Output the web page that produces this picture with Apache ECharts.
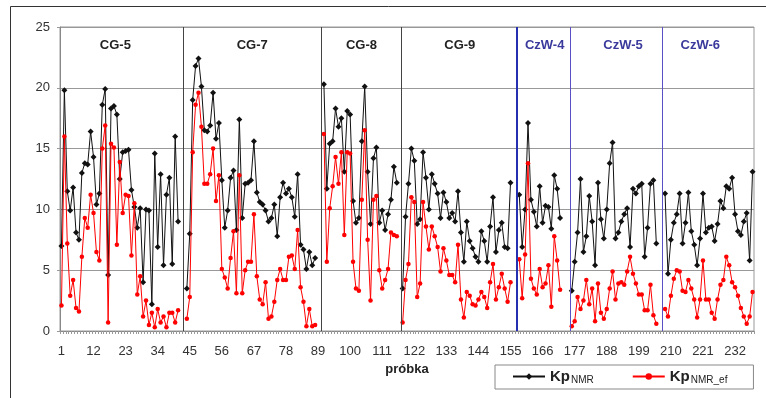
<!DOCTYPE html>
<html>
<head>
<meta charset="utf-8">
<script src="https://cdn.jsdelivr.net/npm/echarts@6/dist/echarts.min.js"></script>
<style>
  html, body { margin: 0; padding: 0; background: #fff; }
  #chart { width: 766px; height: 398px; }
</style>
</head>
<body>
<div id="chart"></div>
<script>
// Kp NMR (czarny) i Kp NMR_ef (czerwony) dla kolejnych próbek
var cg5Nmr = [7.0, 19.8, 11.5, 9.9, 11.8, 8.1, 7.5, 13.0, 13.8, 13.7, 16.4, 14.3, 10.4, 11.3, 18.6, 19.9, 4.6, 18.3, 18.5, 17.8,
              12.5, 14.7, 14.8, 14.9, 11.6, 10.2, 8.5, 10.1, 4.0, 10.0, 9.9, 2.2, 14.6, 6.9, 12.9, 5.4, 11.2, 12.6, 5.5, 16.0, 9.0];
var cg5Ef  = [2.1, 16.0, 7.2, 2.9, 4.2, 1.9, 1.6, 6.1, 9.3, 8.5, 11.2, 9.7, 6.5, 5.8, 15.0, 16.9, 0.7, 15.4, 15.1, 7.1,
              13.9, 9.7, 11.2, 11.1, 6.2, 10.5, 3.0, 4.5, 1.2, 2.5, 0.5, 1.5, 0.3, 1.8, 0.7, 1.2, 0.3, 1.5, 1.5, 0.7, 1.7];

var cg7Nmr = [3.5, 8.0, 19.0, 21.8, 22.4, 20.1, 16.5, 16.4, 16.9, 19.6, 15.8, 17.1, 12.4, 8.5, 9.9, 12.6, 13.2, 8.3, 17.4, 9.3,
              12.1, 12.2, 12.4, 15.6, 11.4, 10.6, 10.4, 9.9, 9.0, 9.3, 10.4, 7.8, 11.0, 12.2, 11.3, 11.7, 11.0, 9.4, 12.9, 7.1,
              6.7, 5.1, 6.5, 5.4, 6.0];
var cg7Ef  = [1.0, 2.8, 14.7, 18.6, 19.6, 16.8, 12.1, 12.1, 12.9, 15.0, 10.7, 12.8, 5.1, 4.4, 3.5, 6.0, 8.2, 3.1, 12.8, 3.1,
              5.0, 5.7, 5.7, 9.6, 4.5, 2.6, 2.2, 4.0, 1.0, 1.2, 2.4, 4.2, 5.1, 4.2, 4.2, 6.1, 6.2, 5.1, 8.3, 3.6,
              2.4, 0.4, 1.8, 0.4, 0.5];

var cg8Nmr = [20.3, 11.7, 15.4, 15.6, 18.3, 16.8, 17.5, 13.1, 18.1, 17.8, 10.7, 8.9, 9.3, 15.6, 20.1, 13.1, 8.8, 14.2, 15.1, 8.9,
              9.9, 8.3, 9.6, 10.8, 13.5, 12.2];
var cg8Ef  = [16.2, 5.7, 10.1, 11.9, 14.3, 12.1, 14.7, 7.9, 14.7, 14.6, 5.7, 3.5, 3.3, 10.8, 16.5, 7.5, 2.5, 10.8, 11.1, 5.0,
              3.5, 4.2, 5.1, 8.1, 7.9, 7.8];

var cg9Nmr = [3.5, 9.4, 12.1, 15.0, 14.0, 8.8, 9.2, 14.7, 12.6, 10.0, 12.9, 12.1, 11.3, 9.3, 11.4, 10.6, 9.3, 9.7, 9.0, 11.5,
              8.1, 5.7, 9.0, 7.4, 6.8, 6.1, 5.7, 8.2, 7.4, 5.7, 8.6, 11.0, 6.5, 8.3, 8.9, 6.9, 6.8, 12.2];
var cg9Ef  = [0.7, 4.2, 5.5, 11.0, 10.6, 2.8, 3.9, 10.6, 8.6, 6.7, 8.6, 7.8, 6.9, 4.9, 6.8, 5.8, 4.6, 4.6, 4.0, 7.1,
              2.6, 1.1, 3.2, 2.9, 2.2, 2.1, 2.6, 3.2, 2.8, 1.9, 4.0, 5.5, 2.6, 3.6, 4.7, 3.5, 2.4, 4.0];

var czw4Nmr = [11.2, 6.9, 10.0, 17.1, 10.8, 9.8, 8.6, 11.9, 8.9, 10.3, 10.2, 8.4, 12.8, 11.7, 9.3];
var czw4Ef  = [5.9, 2.7, 6.3, 13.8, 4.3, 3.5, 3.0, 5.1, 3.6, 3.9, 5.4, 2.0, 7.8, 5.8, 3.4];

var czw5Nmr = [3.3, 5.7, 8.1, 12.5, 6.5, 7.8, 11.1, 9.0, 5.4, 12.2, 9.2, 7.6, 10.0, 13.8, 15.5, 7.6, 8.1, 9.0, 9.6, 10.1,
               6.9, 11.7, 11.3, 11.9, 12.1, 6.1, 8.5, 12.1, 12.4, 7.2];
var czw5Ef  = [0.4, 0.8, 2.8, 1.8, 2.5, 4.2, 2.2, 3.5, 0.8, 3.9, 1.5, 1.0, 1.8, 3.5, 4.9, 2.6, 3.9, 4.0, 3.8, 4.9,
               6.1, 4.7, 3.9, 3.0, 3.0, 1.7, 1.7, 3.8, 1.3, 0.6];

var czw6Nmr = [11.3, 4.7, 7.5, 8.9, 9.6, 11.3, 7.2, 8.9, 11.4, 8.2, 7.1, 5.4, 7.6, 11.3, 8.1, 8.5, 8.6, 7.4, 8.8, 10.7,
               10.1, 11.9, 11.7, 12.6, 9.6, 8.2, 7.9, 9.0, 9.7, 5.8, 13.1];
var czw6Ef  = [1.8, 1.2, 2.9, 4.3, 5.0, 4.9, 3.3, 3.2, 4.2, 3.5, 2.6, 1.1, 2.6, 5.8, 2.6, 2.6, 1.5, 1.0, 2.6, 3.8,
               4.2, 6.1, 5.4, 4.0, 3.6, 2.9, 1.9, 1.2, 0.6, 1.2, 3.2];

var groupNames = ['CG-5', 'CG-7', 'CG-8', 'CG-9', 'CzW-4', 'CzW-5', 'CzW-6'];
var blanksBefore = [0, 2, 2, 1, 2, 3, 2];   // puste próbki przed każdą grupą
var nmrGroups = [cg5Nmr, cg7Nmr, cg8Nmr, cg9Nmr, czw4Nmr, czw5Nmr, czw6Nmr];
var efGroups = [cg5Ef, cg7Ef, cg8Ef, cg9Ef, czw4Ef, czw5Ef, czw6Ef];

// położenie linii podziału i podpisów grup (w numerach próbek)
var dividers = [42.6, 90.2, 117.4, 157.1, 175.6, 207.0];
var labelAt = [19.5, 66.4, 103.9, 137.6, 166.7, 193.6, 220.1];

var kpNmr = [], kpEf = [];
for (var g = 0; g < groupNames.length; g++) {
    for (var b = 0; b < blanksBefore[g]; b++) { kpNmr.push(null); kpEf.push(null); }
    kpNmr = kpNmr.concat(nmrGroups[g]);
    kpEf = kpEf.concat(efGroups[g]);
}
var categories = kpNmr.map(function (v, i) { return String(i + 1); });

var font = 'Liberation Sans, Arial, sans-serif';
var blue = '#3a3a9c';

var chart = echarts.init(document.getElementById('chart'));
var option = {
    animation: false,
    backgroundColor: '#fff',
    textStyle: { fontFamily: font },
    grid: {
        left: 60, right: 12, top: 27, bottom: 67,
        show: true, borderColor: '#999', borderWidth: 1,
        outerBoundsMode: 'none'
    },
    legend: {
        left: 495, top: 365,
        itemWidth: 32, itemHeight: 8, itemGap: 38,
        padding: [4, 26, 4, 17],
        borderColor: '#888', borderWidth: 1,
        data: ['Kp_NMR', 'Kp_NMR_ef'],
        formatter: function (n) {
            return n === 'Kp_NMR' ? '{b|Kp}{s|NMR}' : '{b|Kp}{s|NMR_ef}';
        },
        textStyle: {
            rich: {
                b: { fontFamily: font, fontSize: 15, fontWeight: 'bold', color: '#222' },
                s: { fontFamily: font, fontSize: 10, color: '#222', padding: [7, 0, 0, 1] }
            }
        }
    },
    xAxis: [{
        type: 'category',
        data: categories,
        boundaryGap: true,
        name: 'próbka',
        nameLocation: 'middle',
        nameGap: 24,
        nameTextStyle: { fontFamily: font, fontSize: 13, fontWeight: 'bold', color: '#222' },
        axisLine: { lineStyle: { color: '#888' } },
        axisTick: { show: true, interval: 0, length: 3, lineStyle: { color: '#999' } },
        axisLabel: { interval: 10, margin: 14, fontFamily: font, fontSize: 13, color: '#333' },
        splitLine: { show: false }
    }, {
        type: 'value', min: 0.5, max: 238.5, show: false
    }],
    yAxis: {
        type: 'value', min: 0, max: 25, interval: 5,
        axisLine: { show: true, lineStyle: { color: '#888' } },
        axisTick: { show: true, length: 3, lineStyle: { color: '#999' } },
        axisLabel: { margin: 10, fontFamily: font, fontSize: 13, color: '#333' },
        splitLine: { lineStyle: { color: '#999', width: 1 } }
    },
    series: [{
        name: 'Kp_NMR',
        type: 'line',
        data: kpNmr,
        showAllSymbol: true,
        symbol: 'diamond', symbolSize: 6,
        lineStyle: { color: '#111', width: 1 },
        itemStyle: { color: '#111' },
        z: 3
    }, {
        name: 'Kp_NMR_ef',
        type: 'line',
        data: kpEf,
        showAllSymbol: true,
        symbol: 'circle', symbolSize: 4.5,
        lineStyle: { color: '#f00', width: 1 },
        itemStyle: { color: '#f00' },
        z: 4
    }, {
        name: 'groups',
        type: 'line',
        xAxisIndex: 1,
        data: [],
        silent: true,
        markLine: {
            silent: true,
            symbol: ['none', 'none'],
            label: { show: false },
            data: dividers.map(function (x, i) {
                return {
                    xAxis: x,
                    lineStyle: {
                        type: 'solid',
                        color: i < 3 ? '#444' : (i === 3 ? '#2530b0' : '#5a4fc4'),
                        width: i === 3 ? 2 : 1
                    }
                };
            })
        },
        markPoint: {
            silent: true,
            data: groupNames.map(function (n, i) {
                return {
                    name: n,
                    coord: [labelAt[i], 23.5],
                    symbol: 'rect', symbolSize: 1,
                    itemStyle: { color: 'rgba(0,0,0,0)' },
                    label: {
                        show: true, position: 'inside', formatter: '{b}',
                        fontFamily: font, fontSize: 13, fontWeight: 'bold',
                        color: i < 4 ? '#222' : blue
                    }
                };
            })
        }
    }],
    graphic: [{
        type: 'polyline',
        shape: { points: [[10.5, 398], [10.5, 6.5], [766, 6.5]] },
        style: { stroke: '#333', lineWidth: 1, fill: null },
        silent: true
    }]
};
chart.setOption(option);
</script>
</body>
</html>
